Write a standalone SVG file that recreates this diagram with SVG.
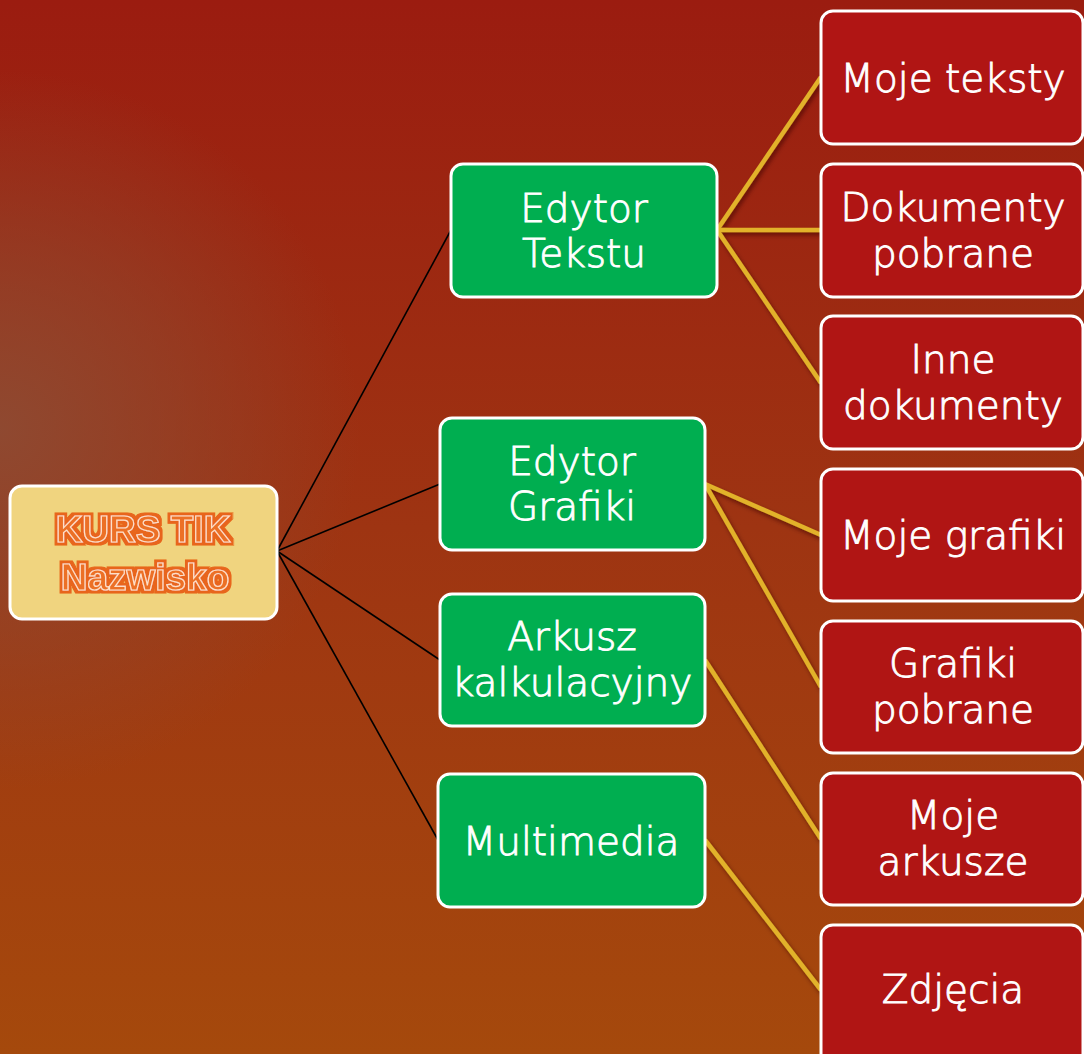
<svg xmlns="http://www.w3.org/2000/svg" width="1084" height="1054" viewBox="0 0 1084 1054">
<defs>
<linearGradient id="bg" x1="0" y1="0" x2="0" y2="1">
<stop offset="0" stop-color="#9B1C10"/>
<stop offset="0.5" stop-color="#9E3412"/>
<stop offset="1" stop-color="#A5490C"/>
</linearGradient>
<radialGradient id="glow" gradientUnits="userSpaceOnUse" cx="0" cy="430" r="360">
<stop offset="0" stop-color="#8E4A32" stop-opacity="0.95"/>
<stop offset="0.5" stop-color="#8E4A32" stop-opacity="0.5"/>
<stop offset="1" stop-color="#8E4A32" stop-opacity="0"/>
</radialGradient>
<filter id="shadow" x="-20%" y="-20%" width="140%" height="140%">
<feGaussianBlur in="SourceAlpha" stdDeviation="2"/>
<feOffset dx="2" dy="3" result="b"/>
<feFlood flood-color="#3a0a00" flood-opacity="0.6"/>
<feComposite in2="b" operator="in"/>
<feMerge><feMergeNode/><feMergeNode in="SourceGraphic"/></feMerge>
</filter>
<filter id="outline" x="-10%" y="-20%" width="120%" height="140%">
<feMorphology in="SourceAlpha" operator="dilate" radius="2.6" result="d"/>
<feFlood flood-color="#E8651A"/>
<feComposite in2="d" operator="in"/>
<feMerge><feMergeNode/><feMergeNode in="SourceGraphic"/></feMerge>
</filter>
</defs>
<style>
.root{fill:#F0D47F;stroke:#fff;stroke-width:3}
.green{fill:#00AE50;stroke:#fff;stroke-width:3}
.red{fill:#B01514;stroke:#fff;stroke-width:3}
.t{font-family:"DejaVu Sans","Liberation Sans",sans-serif;font-size:39px;font-weight:300;fill:#fff;stroke:#fff;stroke-width:0.9;text-anchor:middle}
.rt{font-family:"Liberation Sans",Arial,sans-serif;font-weight:bold;font-size:37px;fill:#EC6F27;stroke:#FDE0C8;stroke-width:1.2;text-anchor:middle;filter:url(#outline)}
.black{stroke:#000;stroke-width:1.6;fill:none}
.gold{stroke:#E2B22A;stroke-width:4.5;fill:none}
</style>
<rect width="1084" height="1054" fill="url(#bg)"/>
<rect width="1084" height="1054" fill="url(#glow)"/>
<g id="connectors">
<g>
<line class="black" x1="277" y1="551" x2="451" y2="230"/>
<line class="black" x1="277" y1="551" x2="440" y2="484"/>
<line class="black" x1="277" y1="551" x2="440" y2="660"/>
<line class="black" x1="277" y1="551" x2="438" y2="840"/>
</g>
<g filter="url(#shadow)">
<line class="gold" x1="717" y1="230" x2="821" y2="77"/>
<line class="gold" x1="717" y1="230" x2="821" y2="230"/>
<line class="gold" x1="717" y1="230" x2="821" y2="383"/>
<line class="gold" x1="705" y1="484" x2="821" y2="535"/>
<line class="gold" x1="705" y1="484" x2="821" y2="687"/>
<line class="gold" x1="705" y1="660" x2="821" y2="839"/>
<line class="gold" x1="705" y1="840" x2="821" y2="990"/>
</g>
</g>
<g id="root">
<rect class="root" x="10" y="486" width="267" height="133" rx="12"/>
<text class="rt" x="143" y="542">KURS TIK</text>
<text class="rt" x="145" y="590">Nazwisko</text>
</g>
<g id="edytor-tekstu">
<rect class="green" x="451" y="164" width="266" height="133" rx="12"/>
<text class="t" x="584" y="222">Edytor</text>
<text class="t" x="584" y="267">Tekstu</text>
</g>
<g id="edytor-grafiki">
<rect class="green" x="440" y="418" width="265" height="132" rx="12"/>
<text class="t" x="572" y="475">Edytor</text>
<text class="t" x="572" y="520">Grafiki</text>
</g>
<g id="arkusz">
<rect class="green" x="440" y="594" width="265" height="132" rx="12"/>
<text class="t" x="572" y="650">Arkusz</text>
<text class="t" x="572" y="696">kalkulacyjny</text>
</g>
<g id="multimedia">
<rect class="green" x="438" y="774" width="267" height="133" rx="12"/>
<text class="t" x="571" y="855">Multimedia</text>
</g>
<g id="moje-teksty">
<rect class="red" x="821" y="11" width="262" height="133" rx="12"/>
<text class="t" x="953" y="92">Moje teksty</text>
</g>
<g id="dokumenty-pobrane">
<rect class="red" x="821" y="164" width="262" height="133" rx="12"/>
<text class="t" x="953" y="221">Dokumenty</text>
<text class="t" x="953" y="267">pobrane</text>
</g>
<g id="inne-dokumenty">
<rect class="red" x="821" y="316" width="262" height="133" rx="12"/>
<text class="t" x="953" y="373">Inne</text>
<text class="t" x="953" y="419">dokumenty</text>
</g>
<g id="moje-grafiki">
<rect class="red" x="821" y="469" width="262" height="132" rx="12"/>
<text class="t" x="953" y="549">Moje grafiki</text>
</g>
<g id="grafiki-pobrane">
<rect class="red" x="821" y="621" width="262" height="132" rx="12"/>
<text class="t" x="953" y="677">Grafiki</text>
<text class="t" x="953" y="723">pobrane</text>
</g>
<g id="moje-arkusze">
<rect class="red" x="821" y="773" width="262" height="132" rx="12"/>
<text class="t" x="953" y="829">Moje</text>
<text class="t" x="953" y="875">arkusze</text>
</g>
<g id="zdjecia">
<rect class="red" x="821" y="925" width="262" height="140" rx="12"/>
<text class="t" x="953" y="1003">Zdjęcia</text>
</g>
</svg>
